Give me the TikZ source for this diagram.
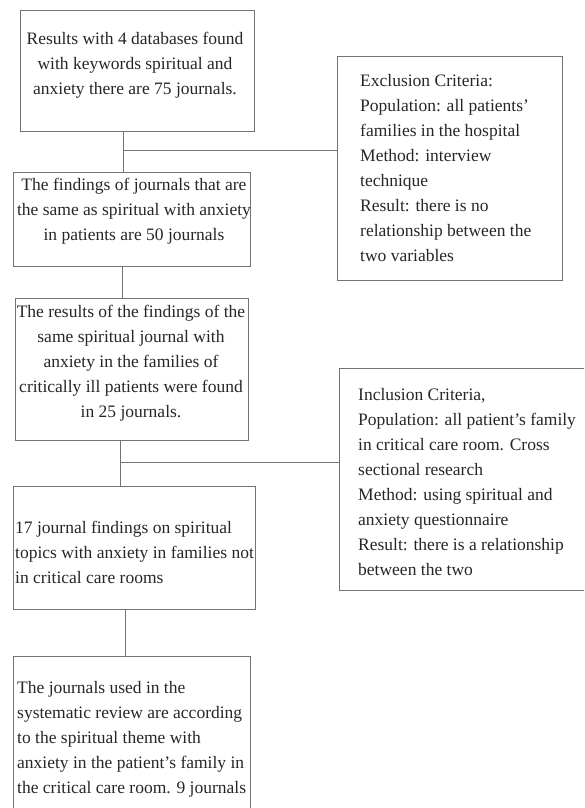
\documentclass[tikz,border=0pt]{standalone}
\usepackage{fontspec}
\setmainfont{Liberation Serif}
\begin{document}
\begin{tikzpicture}[x=1pt,y=1pt,
  box/.style={draw=black!55, line width=1pt, inner sep=0pt, anchor=north west},
  txt/.style={inner sep=0pt, text=black!85, font=\fontsize{17.5}{25}\selectfont},
  link/.style={draw=black!55, line width=1pt}]
\useasboundingbox (0,0) rectangle (584,-808);
\clip (0,0) rectangle (584,-808);
% boxes
\node[box, minimum width=234pt, minimum height=121pt] (b1) at (20,-10) {};
\node[box, minimum width=237pt, minimum height=94pt] (b2) at (13,-172) {};
\node[box, minimum width=233pt, minimum height=142pt] (b3) at (15,-298) {};
\node[box, minimum width=242pt, minimum height=123pt] (b4) at (13,-486) {};
\node[box, minimum width=237pt, minimum height=200pt] (b5) at (13,-656) {};
\node[box, minimum width=225pt, minimum height=224pt] (ex) at (337,-56) {};
\node[box, minimum width=260pt, minimum height=222pt] (in) at (339,-368) {};
% texts
\node[txt, align=center] (t1) at (135,-65.5) {Results with 4 databases found\\with keywords spiritual and\\anxiety there are 75 journals.};
\node[txt, align=center] (t2) at (134,-211) {The findings of journals that are\\the same as spiritual with anxiety\\in patients are 50 journals};
\node[txt, align=center] (t3) at (131,-363.5) {The results of the findings of the\\same spiritual journal with\\anxiety in the families of\\critically ill patients were found\\in 25 journals.};
\node[txt, align=left, anchor=west] (t4) at (15,-552) {17 journal findings on spiritual\\topics with anxiety in families not\\in critical care rooms};
\node[txt, align=left, anchor=west] (t5) at (17,-739.5) {The journals used in the\\systematic review are according\\to the spiritual theme with\\anxiety in the patient's family in\\the critical care room. 9 journals};
\node[txt, align=left, anchor=west] (tex) at (360,-168.5) {Exclusion Criteria:\\Population: all patients'\\families in the hospital\\Method: interview\\technique\\Result: there is no\\relationship between the\\two variables};
\node[txt, align=left, anchor=west] (tin) at (358,-482.5) {Inclusion Criteria,\\Population: all patient's family\\in critical care room. Cross\\sectional research\\Method: using spiritual and\\anxiety questionnaire\\Result: there is a relationship\\between the two};
% connectors
\coordinate (j1) at (123,-150);
\coordinate (j2) at (122,-280);
\coordinate (j3) at (120,-462);
\coordinate (j4) at (125,-630);
\draw[link] (j1 |- b1.south) -- (j1 |- b2.north);
\draw[link] (j1) -- (j1 -| ex.west);
\draw[link] (j2 |- b2.south) -- (j2 |- b3.north);
\draw[link] (j3 |- b3.south) -- (j3 |- b4.north);
\draw[link] (j3) -- (j3 -| in.west);
\draw[link] (j4 |- b4.south) -- (j4 |- b5.north);
\end{tikzpicture}
\end{document}
